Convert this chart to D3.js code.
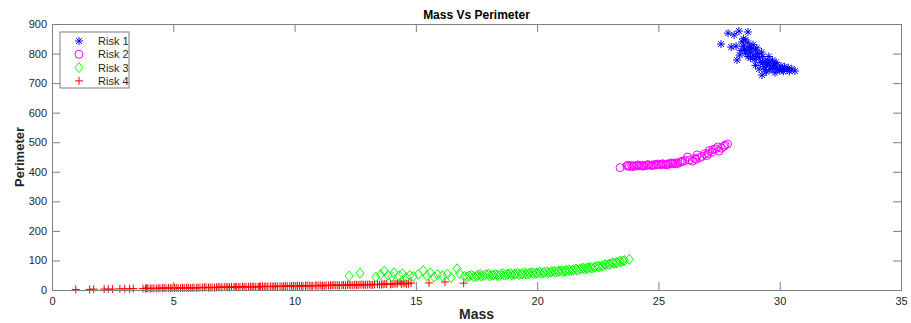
<!DOCTYPE html>
<html>
<head>
<meta charset="utf-8">
<script src="https://cdn.jsdelivr.net/npm/d3@7"></script>
<style>
  body { margin: 0; background: #fff; }
  svg { display: block; font-family: "Liberation Sans", Arial, sans-serif; }
</style>
</head>
<body>
<svg id="chart"></svg>
<script>
// Mass / perimeter pairs, one array per risk class
const risk1 = [
  [27.58, 832], [27.87, 869], [28.12, 863], [28.32, 876], [28.69, 873], [28.2, 825],
  [28.0, 822], [28.45, 839], [28.6, 846], [28.24, 778], [28.5, 850], [28.7, 835],
  [28.4, 810], [28.55, 815], [28.75, 820], [28.9, 830], [29.06, 819], [28.6, 800],
  [28.8, 805], [29.0, 812], [28.7, 790], [28.9, 795], [29.1, 800], [29.3, 790],
  [28.95, 780], [29.15, 785], [29.4, 775], [29.2, 770], [29.5, 768], [29.7, 778],
  [29.0, 760], [29.35, 755], [29.6, 760], [29.8, 765], [29.7, 750], [29.9, 752],
  [30.1, 748], [29.45, 738], [29.6, 745], [30.0, 742], [30.2, 755], [30.3, 745],
  [30.5, 748], [30.63, 741], [29.27, 727], [29.8, 735], [30.4, 740], [29.55, 790],
  [28.5, 825], [28.65, 812], [28.85, 818], [28.35, 795], [28.8, 785], [29.05, 790],
  [29.25, 805], [29.3, 770], [29.45, 762], [29.6, 772], [29.75, 758], [29.9, 745],
  [30.05, 758], [30.15, 740], [30.35, 752], [29.85, 770], [29.15, 748], [29.4, 745]
];
const risk2 = [
  [23.42, 414], [23.7, 420], [23.8, 418], [23.9, 421], [24.0, 419], [24.1, 421],
  [24.2, 420], [24.3, 422], [24.4, 420], [24.5, 421], [24.6, 423], [24.7, 422],
  [24.8, 424], [24.9, 423], [25.0, 425], [25.1, 424], [25.2, 426], [25.3, 425],
  [25.4, 427], [25.5, 428], [25.6, 427], [25.7, 430], [25.8, 429], [25.9, 432],
  [26.0, 436], [26.2, 450], [26.3, 440], [26.5, 445], [26.6, 457], [26.7, 448],
  [26.9, 460], [27.0, 455], [27.1, 472], [27.2, 466], [27.35, 478], [27.45, 484],
  [27.6, 480], [27.75, 490], [27.85, 494],
  [23.75, 422], [23.95, 418], [24.15, 423], [24.35, 419], [24.55, 424], [24.75, 421],
  [24.95, 426], [25.15, 427], [25.35, 423], [25.55, 430], [25.75, 427], [25.95, 434],
  [26.1, 438], [26.4, 436], [26.55, 442], [26.8, 452], [27.05, 462], [27.25, 475],
  [27.5, 470], [27.7, 486]
];
const risk3 = [
  [12.25, 47], [12.7, 57], [13.35, 44], [13.55, 52], [13.7, 64], [13.85, 50],
  [14.0, 45], [14.1, 58], [14.3, 48], [14.45, 55], [14.6, 42], [14.75, 50],
  [14.9, 46], [15.1, 53], [15.3, 66], [15.45, 48], [15.6, 58], [15.75, 44],
  [15.9, 52], [16.1, 48], [16.3, 54], [16.45, 42], [16.7, 72], [16.8, 56],
  [17.0, 46], [17.2, 48], [17.4, 45], [17.55, 50], [17.7, 47], [17.9, 52],
  [18.05, 48], [18.2, 51], [18.35, 49], [18.5, 53], [18.65, 50], [18.8, 54],
  [18.95, 51], [19.1, 55], [19.25, 52], [19.4, 56], [19.55, 53], [19.7, 57],
  [19.85, 55], [20.0, 58], [20.15, 56], [20.3, 60], [20.45, 58], [20.6, 62],
  [20.75, 60], [20.9, 64], [21.05, 62], [21.2, 66], [21.35, 65], [21.5, 69],
  [21.65, 67], [21.8, 72], [21.95, 71], [22.1, 75], [22.25, 74], [22.4, 79],
  [22.55, 78], [22.7, 83], [22.85, 85], [23.0, 88], [23.15, 90], [23.3, 94],
  [23.45, 96], [23.6, 100], [23.8, 104],
  [17.1, 44], [17.3, 50], [17.5, 47], [17.65, 52], [17.8, 49], [18.0, 54],
  [18.15, 50], [18.3, 53], [18.45, 48], [18.6, 55], [18.75, 52], [18.9, 56],
  [19.05, 53], [19.2, 57], [19.35, 54], [19.5, 58], [19.65, 55], [19.8, 59],
  [19.95, 56], [20.1, 61], [20.25, 58], [20.4, 62], [20.55, 60], [20.7, 64],
  [20.85, 62], [21.0, 66], [21.15, 64], [21.3, 68], [21.45, 66], [21.6, 71],
  [21.75, 69], [21.9, 74], [22.05, 73], [22.2, 77], [22.35, 76], [22.5, 81],
  [22.65, 80], [22.8, 86], [22.95, 86], [23.1, 92], [23.25, 91], [23.4, 97],
  [23.55, 98]
];
const risk4 = [
  [0.98, 2], [1.55, 2], [1.72, 3], [2.15, 3], [2.32, 3], [2.5, 3], [2.8, 4],
  [3.0, 4], [3.2, 4], [3.35, 5], [3.75, 5], [3.85, 5], [3.95, 6], [4.05, 5],
  [4.2, 6], [4.3, 5], [4.45, 6], [4.55, 6], [4.7, 6], [4.8, 7], [4.95, 6],
  [5.05, 7], [5.2, 7], [5.3, 6], [5.45, 7], [5.55, 8], [5.7, 7], [5.85, 8],
  [5.95, 7], [6.1, 8], [6.2, 8], [6.35, 9], [6.45, 8], [6.6, 9], [6.7, 8],
  [6.85, 9], [7.0, 9], [7.1, 10], [7.25, 9], [7.4, 10], [7.5, 10], [7.6, 9],
  [7.75, 10], [7.85, 11], [8.0, 10], [8.1, 11], [8.25, 11], [8.4, 10], [8.5, 11],
  [8.6, 12], [8.75, 11], [8.9, 12], [9.0, 12], [9.15, 11], [9.3, 12], [9.4, 13],
  [9.55, 12], [9.7, 13], [9.8, 13], [9.95, 14], [10.05, 13], [10.2, 14], [10.35, 13],
  [10.45, 14], [10.6, 15], [10.75, 14], [10.85, 15], [11.0, 15], [11.15, 14],
  [11.3, 16], [11.4, 15], [11.55, 16], [11.7, 16], [11.85, 15], [11.95, 17],
  [12.1, 16], [12.25, 17], [12.4, 16], [12.55, 17], [12.7, 18], [12.85, 17],
  [13.0, 18], [13.15, 17], [13.3, 19], [13.5, 18], [13.65, 19], [13.8, 20],
  [13.95, 19], [14.1, 21], [14.25, 22], [14.35, 27], [14.4, 20], [14.55, 22],
  [14.7, 21], [14.8, 24], [15.54, 24], [16.2, 27], [16.97, 23],
  [3.9, 6], [4.12, 5], [4.38, 6], [4.62, 7], [4.88, 6], [5.12, 7], [5.38, 8],
  [5.62, 7], [5.78, 7], [6.02, 8], [6.28, 9], [6.52, 8], [6.78, 9], [6.92, 10],
  [7.18, 10], [7.32, 9], [7.55, 11], [7.68, 10], [7.92, 11], [8.18, 11], [8.32, 12],
  [8.55, 11], [8.68, 12], [8.82, 12], [9.08, 12], [9.22, 13], [9.48, 12], [9.62, 14],
  [9.88, 13], [10.12, 14], [10.28, 14], [10.52, 15], [10.68, 14], [10.92, 15],
  [11.08, 16], [11.22, 15], [11.48, 16], [11.62, 17], [11.78, 16], [12.02, 17],
  [12.18, 18], [12.32, 17], [12.48, 18], [12.62, 17], [12.78, 19], [12.92, 18],
  [13.08, 19], [13.22, 18], [13.42, 20], [13.58, 19], [13.72, 21], [14.02, 20],
  [14.18, 22], [14.48, 23], [14.62, 21]
];

const xTicks = [0, 5, 10, 15, 20, 25, 30, 35];
const yTicks = [0, 100, 200, 300, 400, 500, 600, 700, 800, 900];

const seriesNames = ['Risk 1', 'Risk 2', 'Risk 3', 'Risk 4'];
const seriesData = [risk1, risk2, risk3, risk4];
const seriesColors = ['#0000ff', '#ff00ff', '#00ff00', '#ff0000'];
const seriesMarkers = ['star', 'circle', 'diamond', 'plus'];

const totalWidth = 911;
const totalHeight = 323;
const margin = { top: 24, right: 10, bottom: 33, left: 52 };
const width = totalWidth - margin.left - margin.right;
const height = totalHeight - margin.top - margin.bottom;
const axisColor = '#7f7f7f';
const textColor = '#262626';

const svg = d3.select('#chart')
  .attr('width', totalWidth)
  .attr('height', totalHeight);

const x = d3.scaleLinear().domain([0, 35]).range([0, width]);
const y = d3.scaleLinear().domain([0, 900]).range([height, 0]);

const plot = svg.append('g')
  .attr('transform', `translate(${margin.left},${margin.top})`);

// Marker shapes (stroked, MATLAB-like)
const markerPath = {
  star: 'M-4,0H4M0,-4V4M-2.9,-2.9L2.9,2.9M-2.9,2.9L2.9,-2.9',
  diamond: 'M0,-5L4,0L0,5L-4,0Z',
  plus: 'M-4,0H4M0,-4V4'
};

function drawMarker(sel, kind, color) {
  if (kind === 'circle') {
    sel.append('circle')
      .attr('r', 4)
      .attr('fill', 'none')
      .attr('stroke', color)
      .attr('stroke-width', 1);
  } else {
    sel.append('path')
      .attr('d', markerPath[kind])
      .attr('fill', 'none')
      .attr('stroke', color)
      .attr('stroke-width', 1);
  }
}

// Points, drawn so that Risk 1 ends up on top
for (let i = seriesData.length - 1; i >= 0; i--) {
  const g = plot.append('g');
  g.selectAll('g')
    .data(seriesData[i])
    .join('g')
    .attr('transform', d => `translate(${x(d[0])},${y(d[1])})`)
    .each(function () { drawMarker(d3.select(this), seriesMarkers[i], seriesColors[i]); });
}

// Axes: ticks pointing inward on all four sides
function styleAxis(g) {
  g.select('.domain').attr('stroke', axisColor);
  g.selectAll('.tick line').attr('stroke', axisColor);
  g.selectAll('.tick text')
    .attr('fill', textColor)
    .attr('font-size', 11)
    .attr('font-family', '"Liberation Sans", Arial, sans-serif');
}

plot.append('g')
  .attr('transform', `translate(0,${height})`)
  .call(d3.axisBottom(x).tickValues(xTicks).tickSize(-8).tickSizeOuter(0).tickPadding(7))
  .call(styleAxis);

plot.append('g')
  .call(d3.axisTop(x).tickValues(xTicks).tickSize(-8).tickSizeOuter(0).tickFormat(''))
  .call(styleAxis);

plot.append('g')
  .call(d3.axisLeft(y).tickValues(yTicks).tickSize(-8).tickSizeOuter(0).tickPadding(5))
  .call(styleAxis);

plot.append('g')
  .attr('transform', `translate(${width},0)`)
  .call(d3.axisRight(y).tickValues(yTicks).tickSize(-8).tickSizeOuter(0).tickFormat(''))
  .call(styleAxis);

// Title and axis labels
svg.append('text')
  .attr('x', margin.left + width / 2)
  .attr('y', 19)
  .attr('text-anchor', 'middle')
  .attr('font-weight', 'bold')
  .attr('font-size', 12)
  .attr('fill', '#000')
  .text('Mass Vs Perimeter');

svg.append('text')
  .attr('x', margin.left + width / 2)
  .attr('y', 319)
  .attr('text-anchor', 'middle')
  .attr('font-weight', 'bold')
  .attr('font-size', 14)
  .attr('fill', textColor)
  .text('Mass');

svg.append('text')
  .attr('transform', `translate(24,${margin.top + height / 2}) rotate(-90)`)
  .attr('text-anchor', 'middle')
  .attr('font-weight', 'bold')
  .attr('font-size', 13)
  .attr('fill', textColor)
  .text('Perimeter');

// Legend
const legend = svg.append('g').attr('transform', 'translate(60,32)');
legend.append('rect')
  .attr('width', 69)
  .attr('height', 56)
  .attr('fill', '#fff')
  .attr('stroke', axisColor)
  .attr('stroke-width', 1);

seriesNames.forEach((name, i) => {
  const row = legend.append('g').attr('transform', `translate(0,${9 + i * 13.3})`);
  const m = row.append('g').attr('transform', 'translate(19,0)');
  drawMarker(m, seriesMarkers[i], seriesColors[i]);
  row.append('text')
    .attr('x', 38)
    .attr('y', 4)
    .attr('font-size', 11)
    .attr('fill', textColor)
    .text(name);
});
</script>
</body>
</html>
